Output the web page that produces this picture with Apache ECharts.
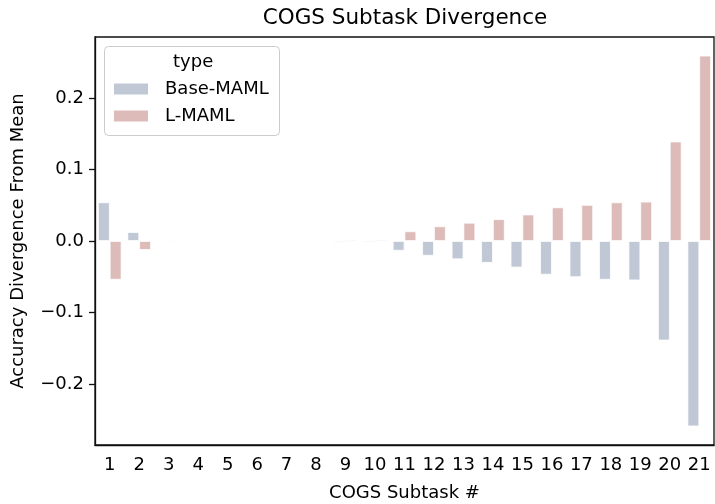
<!DOCTYPE html>
<html><head><meta charset="utf-8">
<script src="https://cdn.jsdelivr.net/npm/echarts@6/dist/echarts.min.js"></script>
<style>html,body{margin:0;padding:0;background:#fff}#c{width:715px;height:504px}</style>
</head><body><div id="c"></div>
<script>
const categories = ['1','2','3','4','5','6','7','8','9','10','11','12','13','14','15','16','17','18','19','20','21'];
const baseMaml = [0.054, 0.0125, 0.0015, 0.0007, 0, 0, 0, 0, -0.002, -0.002, -0.0135, -0.0205, -0.0255, -0.0305, -0.037, -0.047, -0.0505, -0.054, -0.055, -0.139, -0.259];
const lMaml = [-0.054, -0.0125, -0.0015, -0.0007, 0, 0, 0, 0, 0.002, 0.002, 0.0135, 0.0205, 0.0255, 0.0305, 0.037, 0.047, 0.0505, 0.054, 0.055, 0.139, 0.259];
const yTicks = [-0.2, -0.1, 0, 0.1, 0.2];

const font = 'DejaVu Sans';
const chart = echarts.init(document.getElementById('c'), null, {renderer: 'canvas'});
const fmt = v => v.toFixed(1).replace('-', '\u2212');
chart.setOption({
  animation: false,
  backgroundColor: '#fff',
  textStyle: {fontFamily: font},
  title: {text: 'COGS Subtask Divergence', left: 405, top: 7, textAlign: 'center', padding: 0,
    textStyle: {fontFamily: font, fontSize: 21.5, fontWeight: 'normal', color: '#000'}},
  grid: {left: 95, right: 1, top: 37, bottom: 59, show: true, borderColor: '#111', borderWidth: 1.3,
    backgroundColor: 'transparent', outerBoundsMode: 'none', containLabel: false},
  legend: {
    orient: 'vertical', left: 107, top: 75, itemWidth: 36, itemHeight: 13, itemGap: 9,
    textStyle: {fontFamily: font, fontSize: 18, color: '#000', lineHeight: 18, padding: [0, 0, 0, 11]},
    data: ['Base-MAML', 'L-MAML'], icon: 'rect'
  },
  graphic: [
    {type: 'rect', left: 104, top: 46, shape: {width: 175, height: 89, r: 4}, style: {fill: 'rgba(255,255,255,0.8)', stroke: '#ccc', lineWidth: 1}, z: 0},
    {type: 'text', left: 173, top: 53, style: {text: 'type', font: '18px "DejaVu Sans"', fill: '#000'}, z: 1}
  ],
  xAxis: {
    type: 'category', data: categories,
    name: 'COGS Subtask #', nameLocation: 'middle', nameGap: 39,
    nameTextStyle: {fontFamily: font, fontSize: 18, color: '#000'},
    axisLine: {onZero: false, lineStyle: {color: '#111', width: 1.3}},
    axisTick: {alignWithLabel: true, length: 6, lineStyle: {color: '#111', width: 1.3}},
    axisLabel: {fontFamily: font, fontSize: 18, color: '#000', margin: 11, interval: 0},
    splitLine: {show: false}
  },
  yAxis: {
    type: 'value', min: -0.285, max: 0.285,
    name: 'Accuracy Divergence From Mean', nameLocation: 'middle', nameGap: 68,
    nameTextStyle: {fontFamily: font, fontSize: 18, color: '#000'},
    axisLine: {show: true, lineStyle: {color: '#111', width: 1.3}},
    axisTick: {show: true, length: 6, customValues: yTicks, lineStyle: {color: '#111', width: 1.3}},
    axisLabel: {fontFamily: font, fontSize: 18, color: '#000', margin: 11, customValues: yTicks, formatter: fmt},
    splitLine: {show: false}
  },
  series: [
    {name: 'Base-MAML', type: 'bar', data: baseMaml, barGap: '0%', barCategoryGap: '20%',
     itemStyle: {color: '#c0c8d6', borderColor: '#fff', borderWidth: 0.8}},
    {name: 'L-MAML', type: 'bar', data: lMaml, barGap: '0%', barCategoryGap: '20%',
     itemStyle: {color: '#dcbbb9', borderColor: '#fff', borderWidth: 0.8}}
  ]
});
</script></body></html>
